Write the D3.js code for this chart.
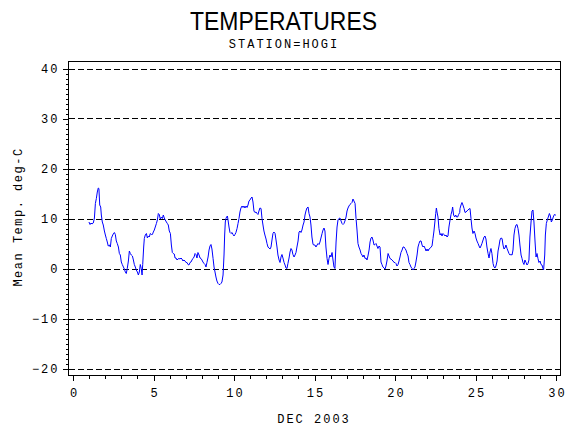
<!DOCTYPE html>
<html>
<head>
<meta charset="utf-8">
<script src="https://cdn.jsdelivr.net/npm/d3@7"></script>
<style>
  body { margin: 0; background: #fff; }
  svg { display: block; }
  .mono { font-family: "Liberation Mono", "DejaVu Sans Mono", monospace; font-size: 12px; letter-spacing: 2px; fill: #000; }
</style>
</head>
<body>
<svg id="chart" width="570" height="430"></svg>
<script>
// Mean temperature, station HOGI, December 2003
var days = [
  0.99, 1.06, 1.12, 1.18, 1.26, 1.33, 1.39, 1.45, 1.51, 1.57, 1.61, 1.66, 1.72, 1.76, 1.82, 1.88, 1.95,
  2.01, 2.07, 2.13, 2.19, 2.26, 2.32, 2.38, 2.44, 2.50, 2.57, 2.63, 2.69, 2.75, 2.82, 2.88, 2.94,
  3.00, 3.06, 3.13, 3.19, 3.25, 3.31, 3.37, 3.44, 3.50, 3.56, 3.62, 3.69, 3.75, 3.81, 3.87, 3.93,
  4.00, 4.06, 4.12, 4.18, 4.24, 4.29, 4.33, 4.39, 4.43, 4.49, 4.56, 4.62, 4.68, 4.74, 4.80, 4.87, 4.93, 4.99,
  5.05, 5.11, 5.18, 5.24, 5.30, 5.36, 5.42, 5.49, 5.55, 5.61, 5.67, 5.73, 5.80, 5.86, 5.92, 5.98,
  6.05, 6.11, 6.17, 6.23, 6.29, 6.34, 6.40, 6.46, 6.52, 6.58, 6.65, 6.71, 6.77, 6.83, 6.89, 6.96,
  7.02, 7.08, 7.14, 7.20, 7.27, 7.33, 7.39, 7.45, 7.52, 7.58, 7.64, 7.70, 7.76, 7.83, 7.89, 7.95,
  8.01, 8.07, 8.14, 8.20, 8.26, 8.32, 8.39, 8.45, 8.51, 8.57, 8.63, 8.70, 8.76, 8.82, 8.88, 8.94,
  9.01, 9.07, 9.13, 9.19, 9.25, 9.32, 9.38, 9.42, 9.46, 9.50, 9.54, 9.59, 9.63, 9.69, 9.75, 9.81, 9.88, 9.94,
  10.00, 10.06, 10.12, 10.19, 10.25, 10.31, 10.37, 10.43, 10.50, 10.56, 10.62, 10.68, 10.75, 10.81, 10.87, 10.93, 10.99,
  11.06, 11.12, 11.18, 11.24, 11.30, 11.37, 11.43, 11.49, 11.55, 11.61, 11.68, 11.74, 11.80, 11.86, 11.92, 11.99,
  12.05, 12.11, 12.17, 12.24, 12.30, 12.36, 12.42, 12.48, 12.55, 12.61, 12.67, 12.73, 12.80, 12.86, 12.92, 12.98,
  13.04, 13.11, 13.17, 13.23, 13.29, 13.35, 13.42, 13.48, 13.54, 13.60, 13.66, 13.73, 13.79, 13.85, 13.91, 13.98,
  14.04, 14.10, 14.16, 14.22, 14.29, 14.35, 14.41, 14.47, 14.53, 14.60, 14.66, 14.72, 14.78, 14.84, 14.91, 14.97,
  15.03, 15.09, 15.16, 15.22, 15.28, 15.34, 15.40, 15.47, 15.53, 15.59, 15.65, 15.71, 15.78, 15.84, 15.90, 15.96,
  16.02, 16.09, 16.15, 16.21, 16.27, 16.34, 16.40, 16.46, 16.52, 16.58, 16.65, 16.71, 16.77, 16.83, 16.89, 16.96,
  17.02, 17.08, 17.14, 17.20, 17.27, 17.33, 17.39, 17.45, 17.52, 17.58, 17.64, 17.70, 17.76, 17.83, 17.89, 17.95,
  18.01, 18.07, 18.14, 18.20, 18.26, 18.32, 18.39, 18.45, 18.51, 18.57, 18.63, 18.70, 18.76, 18.82, 18.88, 18.94,
  19.01, 19.07, 19.13, 19.19, 19.25, 19.32, 19.38, 19.44, 19.50, 19.57, 19.63, 19.69, 19.75, 19.81, 19.88, 19.94,
  20.00, 20.06, 20.12, 20.19, 20.25, 20.31, 20.37, 20.44, 20.50, 20.56, 20.62, 20.68, 20.75, 20.81, 20.87, 20.93, 20.99,
  21.06, 21.12, 21.18, 21.24, 21.30, 21.37, 21.43, 21.49, 21.55, 21.62, 21.68, 21.74, 21.80, 21.86, 21.93, 21.99,
  22.05, 22.11, 22.17, 22.24, 22.30, 22.36, 22.42, 22.49, 22.53, 22.57, 22.61, 22.67, 22.73, 22.80, 22.86, 22.92, 22.98,
  23.04, 23.11, 23.17, 23.23, 23.29, 23.35, 23.42, 23.48, 23.54, 23.58, 23.64, 23.71, 23.77, 23.83, 23.89, 23.95,
  24.02, 24.04, 24.10, 24.16, 24.22, 24.29, 24.35, 24.41, 24.47, 24.53, 24.60, 24.66, 24.72, 24.78, 24.84, 24.91, 24.97,
  25.03, 25.09, 25.16, 25.22, 25.28, 25.34, 25.40, 25.47, 25.53, 25.59, 25.65, 25.71, 25.78, 25.84, 25.90, 25.96,
  26.02, 26.09, 26.15, 26.21, 26.27, 26.34, 26.40, 26.46, 26.52, 26.58, 26.65, 26.71, 26.77, 26.83, 26.89, 26.96,
  27.02, 27.08, 27.14, 27.20, 27.27, 27.33, 27.39, 27.45, 27.52, 27.58, 27.64, 27.70, 27.76, 27.83, 27.89, 27.95,
  28.01, 28.07, 28.14, 28.20, 28.26, 28.32, 28.38, 28.45, 28.51, 28.57, 28.63, 28.70, 28.76, 28.82, 28.88, 28.94,
  29.01, 29.07, 29.13, 29.19, 29.23, 29.30, 29.34, 29.40, 29.46, 29.52, 29.59, 29.65, 29.71, 29.77, 29.83, 29.90, 29.96, 30.00
];

var temps = [
  9.3, 8.8, 9.1, 8.9, 9.1, 10.1, 13, 14, 15.3, 16.1, 16, 12.7, 12.3, 10.7, 9.3, 8.7, 7.5,
  6.7, 6, 5.3, 4.5, 4.7, 4.3, 6, 6.5, 6.9, 7.2, 6.8, 5.5, 5, 4.3, 3, 2.7,
  1.3, 0.8, 0.3, -0.1, -0.7, -1, 0, 1.5, 3.5, 3, 2.7, 2.5, 1.7, 0.8, 0.3, -0.3,
  -0.7, -1.3, -0.7, 0.8, 0, -1.3, 0.8, 4.3, 6, 6.7, 7, 6.1, 6.5, 6.3, 7, 6.8, 6.8, 7.3,
  7.7, 8.3, 9, 9.7, 11, 10.8, 9.9, 10.3, 10, 10.7, 10.1, 9.7, 9.3, 9, 8.7, 7.5,
  7, 4.7, 3.2, 3, 2.9, 2.1, 2.1, 1.7, 1.9, 2, 1.9, 2.1, 1.9, 1.5, 1.7, 1.5,
  1.2, 1.2, 0.8, 0.7, 1.2, 1.3, 1.7, 2, 2.3, 3, 2.8, 2.1, 3.2, 2.7, 2.1, 2,
  1.7, 1.3, 1, 0.8, 0.3, 1.2, 2.3, 3.7, 4.5, 4.8, 3.9, 2, 0.3, -0.7, -1.7, -2.5,
  -3, -3.2, -3.2, -3, -2.7, -1.3, 2.7, 6.7, 9.3, 10, 10.3, 10.5, 9.7, 8.3, 7.2, 7, 7.2, 6.8,
  6.5, 6.8, 7.2, 8, 9, 10, 11.3, 12.1, 12.5, 12.2, 12.5, 12.1, 12.5, 12.2, 12.7, 13.5, 13.7,
  14.1, 14.3, 13.3, 11.5, 11.2, 11.3, 11, 10.8, 11.5, 12.1, 12, 10, 8.7, 7.5, 6.7, 5.9,
  5, 4.3, 4.1, 3.9, 4.3, 5.7, 7, 7.3, 7, 5.7, 4.3, 2.7, 1.7, 1.2, 2.3, 2.8,
  2.1, 1.2, 0.7, 0.1, 0, 1, 2.1, 3.3, 4, 3.7, 2.8, 2.3, 2.7, 3.2, 4.3, 5.5,
  7.3, 7.5, 7.2, 7.7, 8.7, 9.3, 10.7, 11.5, 12.1, 12.3, 11, 10.3, 8.7, 6.3, 4.8, 4.7,
  4.7, 4.3, 4.7, 5, 4.8, 5.3, 6.1, 7, 7.7, 8.1, 7.5, 4.3, 2, 0.8, 2, 2.7,
  2.3, 3.2, 1.7, 0.3, 0, 5.3, 8.3, 9.7, 10, 10.1, 9.5, 9, 8.8, 9, 9.5, 10.3,
  11.5, 12.1, 12.5, 12.8, 13, 13.2, 13.9, 13.5, 13, 10, 7.7, 5, 4.3, 3.7, 3, 2.7,
  2.3, 2.7, 2, 2.1, 1.7, 2.5, 3.7, 5.3, 6.1, 6.3, 5.7, 4.7, 4.8, 5, 4.5, 4,
  4.5, 4.3, 1.3, 0.8, 0.3, 0.1, -0.1, 0.5, 1.5, 3, 2.5, 2, 1.9, 1.7, 1.5, 1.2,
  1.2, 1, 0.5, 0.8, 1.5, 2.3, 3.2, 3.7, 4.3, 4.3, 4, 3.7, 3, 2.5, 1.2, 0.8, 0.3,
  0, -0.3, 0, 0.3, 1.3, 2.7, 4.3, 5, 5.5, 5.5, 4.7, 4.3, 4.5, 4.1, 3.5, 3.9,
  3.5, 3.9, 4, 4.3, 4.5, 6, 7.5, 9.7, 11, 12.1, 11.3, 10.3, 8, 6.7, 7, 6.5, 7,
  6.8, 6.5, 6.7, 6.3, 6.5, 8.3, 9.7, 10.8, 11.5, 12.3, 10.7, 10.3, 10.7, 10.3, 10.3, 10.8,
  11.2, 12, 12.7, 13.2, 12.7, 12, 11.2, 11.3, 11.5, 11.7, 11.9, 12, 10, 8.1, 7, 7.5, 7,
  6.1, 5.5, 5, 4.5, 4.1, 4.5, 5, 5.7, 6.3, 6.5, 5.9, 4.3, 3, 2.1, 3.3, 4,
  3, 1, 0.3, 0.1, 0.5, 1.5, 3.5, 4.5, 5.7, 6.1, 6, 4.7, 3.9, 4.1, 4.7, 4,
  3.5, 3, 2.7, 2.8, 2.7, 3.7, 6.7, 8, 8.7, 8.8, 8, 6.7, 4.7, 2.7, 2, 1.2,
  0.8, 1.7, 1.2, 0.7, 1, 1.7, 6.3, 9.3, 11.5, 11.7, 9.3, 5.3, 2.3, 3, 2, 1.2,
  1.5, 0.8, 0.7, 0, -0.3, 2.7, 6.7, 9, 9.7, 10.3, 11, 10.5, 9.3, 9.7, 10.3, 10.8, 10.7, 10.7
];

var xTicks = [0, 5, 10, 15, 20, 25, 30];
var yTicks = [-20, -10, 0, 10, 20, 30, 40];

var titleText = "TEMPERATURES";
var subtitleText = "STATION=HOGI";
var xLabel = "DEC 2003";
var yLabel = "Mean Temp. deg-C";

var svg = d3.select("#chart");

// frame edges in page pixels (not called "top": that name is taken by window.top)
var frameLeft = 68.5, frameRight = 560.5, frameTop = 61.5, frameBottom = 375.5;

var x = d3.scaleLinear().domain([0, 30]).range([73, 556]);
var y = d3.scaleLinear().domain([-20, 40]).range([368.5, 68.5]);

// titles
svg.append("text")
    .attr("x", 190)
    .attr("y", 30)
    .attr("textLength", 187)
    .attr("lengthAdjust", "spacingAndGlyphs")
    .style("font-family", "'Liberation Sans', Arial, sans-serif")
    .style("font-size", "25px")
    .text(titleText);

svg.append("text")
    .attr("class", "mono")
    .attr("x", 284)
    .attr("y", 48)
    .attr("text-anchor", "middle")
    .text(subtitleText);

// dashed reference lines at each major y tick
svg.append("g")
    .selectAll("line")
    .data(yTicks)
    .join("line")
    .attr("x1", frameLeft)
    .attr("x2", frameRight)
    .attr("y1", function (d) { return Math.round(y(d)) + 0.5; })
    .attr("y2", function (d) { return Math.round(y(d)) + 0.5; })
    .attr("stroke", "#000")
    .attr("stroke-dasharray", "6,3")
    .attr("shape-rendering", "crispEdges");

// the temperature trace
var line = d3.line()
    .x(function (d, i) { return x(days[i]); })
    .y(function (d) { return y(d); });

svg.append("path")
    .datum(temps)
    .attr("d", line)
    .attr("fill", "none")
    .attr("stroke", "#0000ff")
    .attr("stroke-width", 1);

// frame
svg.append("rect")
    .attr("x", frameLeft)
    .attr("y", frameTop)
    .attr("width", frameRight - frameLeft)
    .attr("height", frameBottom - frameTop)
    .attr("fill", "none")
    .attr("stroke", "#000")
    .attr("shape-rendering", "crispEdges");

// y axis: minor ticks every degree, majors every 10
var yMinor = svg.append("g")
    .attr("transform", "translate(" + frameLeft + ",0)")
    .call(d3.axisLeft(y).tickValues(d3.range(-20, 41)).tickSize(3).tickFormat(""));

var yMajor = svg.append("g")
    .attr("transform", "translate(" + frameLeft + ",0)")
    .call(d3.axisLeft(y).tickValues(yTicks).tickSize(6).tickPadding(5));

// x axis: minor ticks every day, majors every 5
var xMinor = svg.append("g")
    .attr("transform", "translate(0," + frameBottom + ")")
    .call(d3.axisBottom(x).tickValues(d3.range(0, 31)).tickSize(3).tickFormat(""));

var xMajor = svg.append("g")
    .attr("transform", "translate(0," + frameBottom + ")")
    .call(d3.axisBottom(x).tickValues(xTicks).tickSize(5).tickPadding(8));

[yMinor, yMajor, xMinor, xMajor].forEach(function (g) {
    g.select(".domain").remove();
    g.selectAll("line").attr("shape-rendering", "crispEdges");
    g.selectAll("text")
        .attr("class", "mono")
        .style("font-family", null)
        .style("font-size", null);
});
yMajor.selectAll("text").attr("dx", "2px");
xMajor.selectAll("text").attr("dx", "1px");

// axis labels
svg.append("text")
    .attr("class", "mono")
    .attr("x", 314)
    .attr("y", 423)
    .attr("text-anchor", "middle")
    .text(xLabel);

svg.append("text")
    .attr("class", "mono")
    .attr("transform", "translate(22,217) rotate(-90)")
    .attr("text-anchor", "middle")
    .style("letter-spacing", "1.5px")
    .text(yLabel);
</script>
</body>
</html>
